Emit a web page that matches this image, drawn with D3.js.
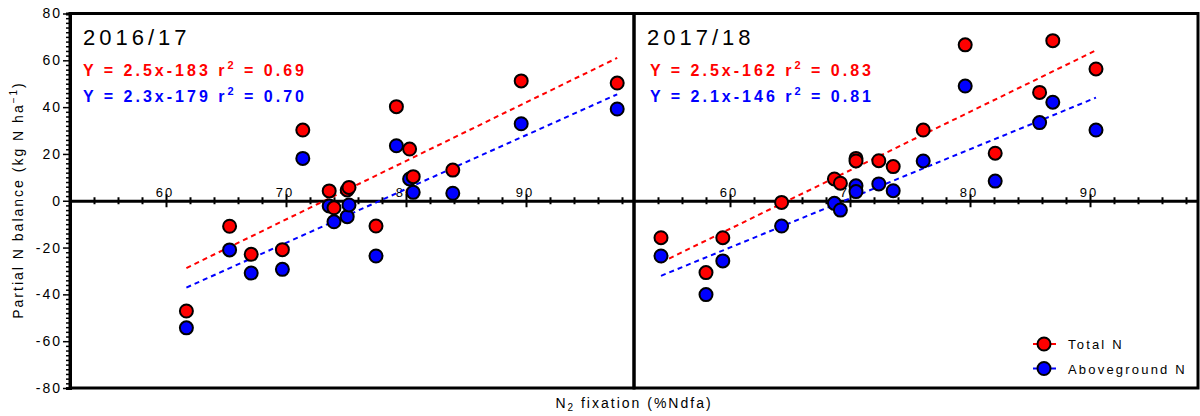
<!DOCTYPE html>
<html>
<head>
<meta charset="utf-8">
<script src="https://cdn.jsdelivr.net/npm/d3@7"></script>
<style>
  html, body { margin: 0; padding: 0; background: #fff; }
  svg { display: block; font-family: "Liberation Sans", Arial, sans-serif; }
</style>
</head>
<body>
<svg id="chart" width="1200" height="416"></svg>
<script>
// ---- Data: N2 fixation (%Ndfa) vs partial N balance (kg N/ha) ----
const ndfa1617   = [61.7, 65.3, 67.1, 69.7, 71.4, 73.6, 74.0, 75.1, 75.25, 77.5, 79.2, 80.3, 80.6, 83.9, 89.6, 97.6];
const totalN1617 = [-47.1, -10.9, -22.9, -20.9, 30.2, 4.2, -3.0, 4.6, 5.7, -10.8, 40.2, 22.1, 10.3, 13.1, 51.2, 50.3];
const aboveN1617 = [-54.3, -21.0, -30.9, -29.3, 18.1, -2.2, -9.0, -6.8, -1.8, -23.6, 23.5, 9.3, 3.6, 3.2, 32.9, 39.2];

const ndfa1718   = [54.25, 58.0, 59.4, 64.3, 68.7, 69.2, 70.5, 70.5, 72.4, 73.6, 76.1, 79.6, 82.1, 85.8, 86.9, 90.5];
const totalN1718 = [-15.8, -30.7, -15.8, -0.7, 9.3, 7.5, 18.1, 17.0, 17.1, 14.6, 30.2, 66.6, 20.3, 46.3, 68.4, 56.3];
const aboveN1718 = [-23.6, -40.1, -25.7, -10.8, -1.1, -4.0, 6.4, 3.9, 7.2, 4.3, 17.0, 49.0, 8.4, 33.4, 42.1, 30.2];

// Linear fits [slope, intercept, r2]
const fitTotal1617 = [2.5, -183, "0.69"];
const fitAbove1617 = [2.3, -179, "0.70"];
const fitTotal1718 = [2.5, -162, "0.83"];
const fitAbove1718 = [2.1, -146, "0.81"];

const seasons = ["2016/17", "2017/18"];
const seriesNames = ["Total N", "Aboveground N"];
const xTickLabels = [60, 70, 80, 90];
const yTickLabels = [-80, -60, -40, -20, 0, 20, 40, 60, 80];

const RED = "#ff0000", BLUE = "#0000ff";
const svg = d3.select("#chart");

const y = d3.scaleLinear().domain([-80, 80]).range([388, 13.5]);
const xDomain = [52, 99];

const panels = [
  { season: seasons[0], x: d3.scaleLinear().domain(xDomain).range([70, 634]),
    ndfa: ndfa1617, total: totalN1617, above: aboveN1617, fits: [fitTotal1617, fitAbove1617] },
  { season: seasons[1], x: d3.scaleLinear().domain(xDomain).range([634, 1198]),
    ndfa: ndfa1718, total: totalN1718, above: aboveN1718, fits: [fitTotal1718, fitAbove1718] }
];

// ---- Y axis (left panel only) ----
const yAxis = d3.axisLeft(y)
  .tickValues(d3.range(-80, 81, 2))
  .tickSize(4)
  .tickFormat(d => yTickLabels.includes(d) ? String(d) : "");
const gy = svg.append("g").attr("transform", "translate(70,0)").call(yAxis);
gy.select(".domain").attr("stroke", "#000").attr("stroke-width", 3);
gy.selectAll(".tick line")
  .attr("stroke", "#000").attr("stroke-width", 1.5)
  .attr("x2", d => d % 20 === 0 ? -7 : -4);
gy.selectAll(".tick text")
  .attr("x", -8)
  .attr("font-size", 14).attr("letter-spacing", 2)
  .attr("font-family", "Liberation Sans, Arial, sans-serif")
  .attr("fill", "#000");

panels.forEach((p, pi) => {
  const x = p.x;
  const [x0, x1] = x.range();
  const g = svg.append("g");

  // frame
  g.append("rect")
    .attr("x", x0).attr("y", y(80))
    .attr("width", x1 - x0).attr("height", y(-80) - y(80))
    .attr("fill", "none").attr("stroke", "#000").attr("stroke-width", 3);

  // x axis drawn along y = 0, ticks crossing the line
  const xAxis = d3.axisBottom(x)
    .tickValues(d3.range(54, 99, 2))
    .tickSizeOuter(0)
    .tickFormat("");
  const gx = g.append("g").attr("transform", `translate(0,${y(0)})`).call(xAxis);
  gx.select(".domain").attr("stroke", "#000").attr("stroke-width", 3);
  gx.selectAll(".tick line")
    .attr("stroke", "#000").attr("stroke-width", 2)
    .attr("y1", d => d % 10 === 0 ? -6.5 : -3.5)
    .attr("y2", d => d % 10 === 0 ? 6.5 : 3.5);

  // x tick labels sit above the zero line
  g.selectAll(".xlab").data(xTickLabels).join("text")
    .attr("class", "xlab")
    .attr("x", d => x(d) - 1)
    .attr("y", y(0) - 4)
    .attr("text-anchor", "middle")
    .attr("font-size", 13).attr("letter-spacing", 2)
    .text(d => d);

  // season title
  g.append("text")
    .attr("x", x0 + 13).attr("y", 45)
    .attr("font-size", 22).attr("letter-spacing", 4)
    .text(p.season);

  // regression equations
  const colors = [RED, BLUE];
  p.fits.forEach((f, i) => {
    const t = g.append("text")
      .attr("x", x0 + 13 + (pi ? 3 : 0)).attr("y", 76 + i * 25.5)
      .attr("font-size", 16).attr("font-weight", "bold")
      .attr("letter-spacing", 3).attr("fill", colors[i]);
    t.append("tspan").text(`Y = ${f[0].toFixed(1)}x${f[1]} r`);
    t.append("tspan").attr("dy", -7).attr("font-size", 11).text("2");
    t.append("tspan").attr("dy", 7).text(` = ${f[2]}`);
  });

  // fitted lines over the observed Ndfa range
  const [xmin, xmax] = d3.extent(p.ndfa);
  const line = d3.line().x(d => x(d[0])).y(d => y(d[1]));
  p.fits.forEach((f, i) => {
    const pts = [xmin, xmax].map(v => [v, f[0] * v + f[1]]);
    g.append("path")
      .attr("d", line(pts))
      .attr("fill", "none").attr("stroke", colors[i])
      .attr("stroke-width", 2).attr("stroke-dasharray", "5,4");
  });

  // points: aboveground first, total N drawn on top within each pair
  const pairs = p.ndfa.map((v, i) => ({ x: v, total: p.total[i], above: p.above[i] }));
  pairs.forEach(d => {
    g.append("circle")
      .attr("cx", x(d.x)).attr("cy", y(d.above)).attr("r", 6.5)
      .attr("fill", BLUE).attr("stroke", "#000").attr("stroke-width", 2);
    g.append("circle")
      .attr("cx", x(d.x)).attr("cy", y(d.total)).attr("r", 6.5)
      .attr("fill", RED).attr("stroke", "#000").attr("stroke-width", 2);
  });
});

// ---- Legend ----
const legend = svg.append("g").attr("transform", "translate(1044,344)");
seriesNames.forEach((name, i) => {
  const c = i === 0 ? RED : BLUE;
  const row = legend.append("g").attr("transform", `translate(0,${i * 24.5})`);
  row.append("line").attr("x1", -11).attr("x2", 12)
    .attr("stroke", c).attr("stroke-width", 2);
  row.append("circle").attr("r", 6.5)
    .attr("fill", c).attr("stroke", "#000").attr("stroke-width", 2);
  row.append("text").attr("x", 24).attr("y", 5)
    .attr("font-size", 13).attr("letter-spacing", 2.2).text(name);
});

// ---- Axis titles ----
const yt = svg.append("text")
  .attr("transform", "translate(23,200) rotate(-90)")
  .attr("text-anchor", "middle")
  .attr("font-size", 14).attr("letter-spacing", 2);
yt.append("tspan").text("Partial N balance (kg N ha");
yt.append("tspan").attr("dy", -6).attr("font-size", 10).text("\u22121");
yt.append("tspan").attr("dy", 6).text(")");

const xt = svg.append("text")
  .attr("x", 634).attr("y", 408)
  .attr("text-anchor", "middle")
  .attr("font-size", 14).attr("letter-spacing", 2);
xt.append("tspan").text("N");
xt.append("tspan").attr("dy", 3).attr("font-size", 10).text("2");
xt.append("tspan").attr("dy", -3).text(" fixation (%Ndfa)");
</script>
</body>
</html>
